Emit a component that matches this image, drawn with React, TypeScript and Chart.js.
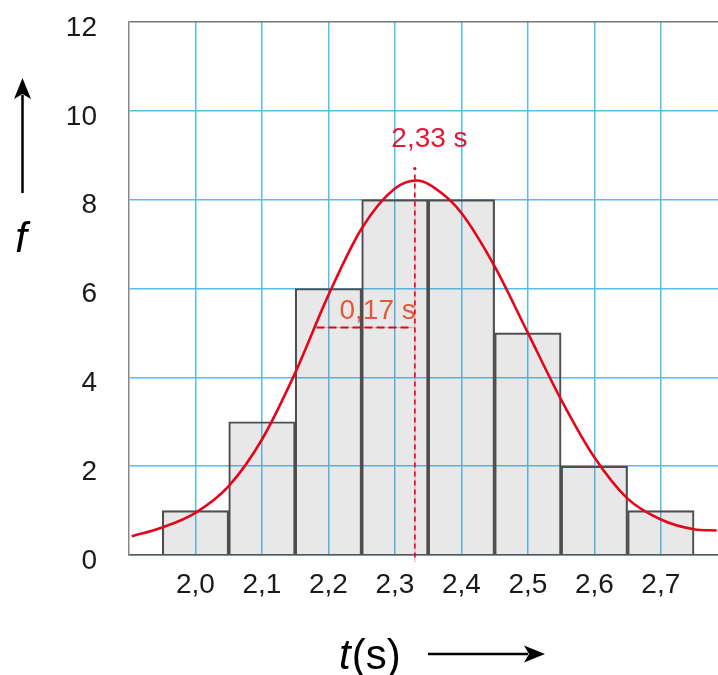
import React, { useEffect, useRef } from 'react';
import { Chart, registerables } from 'chart.js';

Chart.register(...registerables);

const FONT = '"Liberation Sans", Arial, Helvetica, sans-serif';

// Histogram data (bin centres in s, frequency f)
const binCenters = [2.0, 2.1, 2.2, 2.3, 2.4, 2.5, 2.6, 2.7];
const frequencies = [1, 3, 6, 8, 8, 5, 2, 1];

// Fitted normal curve
const curveT = [1.904, 1.95, 2.0, 2.05, 2.1, 2.15, 2.2, 2.25, 2.3, 2.333, 2.37, 2.4, 2.45, 2.5, 2.55, 2.6, 2.65, 2.7, 2.75, 2.784];
const curveF = [0.42, 0.62, 0.95, 1.55, 2.6, 4.1, 5.85, 7.35, 8.25, 8.43, 8.15, 7.7, 6.5, 5.0, 3.5, 2.2, 1.27, 0.8, 0.58, 0.55];

// Tick values
const xTicks = [2.0, 2.1, 2.2, 2.3, 2.4, 2.5, 2.6, 2.7];
const yTicks = [0, 2, 4, 6, 8, 10, 12];

// Annotations
const meanT = 2.33;
const meanLabel = '2,33 s';
const sigmaStartT = 2.182;
const sigmaLevel = 5.12;
const sigmaLabel = '0,17 s';

const RED = '#e3061b';
const GRID = 'rgb(84,190,234)';

function drawArrow(ctx: CanvasRenderingContext2D, x1: number, y1: number, x2: number, y2: number) {
  const ang = Math.atan2(y2 - y1, x2 - x1);
  const headLen = 21;
  const headHalf = 8.5;
  const bx = x2 - headLen * Math.cos(ang);
  const by = y2 - headLen * Math.sin(ang);
  ctx.save();
  ctx.strokeStyle = '#000';
  ctx.fillStyle = '#000';
  ctx.lineWidth = 2.5;
  ctx.beginPath();
  ctx.moveTo(x1, y1);
  ctx.lineTo(bx + 4 * Math.cos(ang), by + 4 * Math.sin(ang));
  ctx.stroke();
  const px = -Math.sin(ang), py = Math.cos(ang);
  ctx.beginPath();
  ctx.moveTo(x2, y2);
  ctx.lineTo(bx + px * headHalf, by + py * headHalf);
  ctx.lineTo(bx + 5 * Math.cos(ang), by + 5 * Math.sin(ang));
  ctx.lineTo(bx - px * headHalf, by - py * headHalf);
  ctx.closePath();
  ctx.fill();
  ctx.restore();
}

const annotPlugin = {
  id: 'annot',
  afterDatasetsDraw(chart: any) {
    const { ctx } = chart;
    const x = chart.scales.x;
    const y = chart.scales.y;
    ctx.save();
    // mean line (dashed vertical)
    const mx = x.getPixelForValue(meanT);
    const top = y.getPixelForValue(8.7);
    const bottom = y.getPixelForValue(-0.15);
    ctx.strokeStyle = 'rgba(227,6,27,0.3)';
    ctx.lineWidth = 1;
    ctx.beginPath();
    ctx.moveTo(mx, top + 6);
    ctx.lineTo(mx, bottom);
    ctx.stroke();
    ctx.strokeStyle = RED;
    ctx.lineWidth = 1.6;
    ctx.setLineDash([5, 4]);
    ctx.beginPath();
    ctx.moveTo(mx, top + 6);
    ctx.lineTo(mx, bottom);
    ctx.stroke();
    ctx.setLineDash([]);
    ctx.fillStyle = RED;
    ctx.beginPath();
    ctx.arc(mx, top, 1.6, 0, Math.PI * 2);
    ctx.fill();
    // sigma line (dashed horizontal)
    const sy = y.getPixelForValue(sigmaLevel);
    const sx1 = x.getPixelForValue(sigmaStartT);
    ctx.strokeStyle = 'rgba(227,6,27,0.3)';
    ctx.lineWidth = 1;
    ctx.beginPath();
    ctx.moveTo(sx1, sy);
    ctx.lineTo(mx, sy);
    ctx.stroke();
    ctx.strokeStyle = RED;
    ctx.lineWidth = 2;
    ctx.setLineDash([8, 4]);
    ctx.beginPath();
    ctx.moveTo(sx1, sy);
    ctx.lineTo(mx - 6, sy);
    ctx.stroke();
    ctx.setLineDash([]);
    // labels
    ctx.textAlign = 'center';
    ctx.textBaseline = 'middle';
    ctx.font = `28px ${FONT}`;
    ctx.fillStyle = '#e3173a';
    ctx.fillText(meanLabel, x.getPixelForValue(2.352), y.getPixelForValue(9.37));
    ctx.fillStyle = '#df5a3c';
    ctx.fillText(sigmaLabel, x.getPixelForValue(2.274), y.getPixelForValue(5.48));
    ctx.restore();
  },
  afterDraw(chart: any) {
    const { ctx } = chart;
    ctx.save();
    ctx.fillStyle = '#000';
    ctx.textBaseline = 'alphabetic';
    ctx.textAlign = 'left';
    // x title: t(s)
    ctx.font = `italic 42px ${FONT}`;
    ctx.fillText('t', 339, 669);
    const tw = ctx.measureText('t').width;
    ctx.font = `42px ${FONT}`;
    ctx.fillText('(s)', 339 + tw + 1, 669);
    // y title: f
    ctx.font = `italic 42px ${FONT}`;
    ctx.textAlign = 'center';
    ctx.fillText('f', 21, 252);
    ctx.restore();
    drawArrow(ctx, 22.5, 193, 22.5, 78);
    drawArrow(ctx, 428, 654, 545, 654);
  },
};

export default function App() {
  const ref = useRef<HTMLCanvasElement>(null);
  useEffect(() => {
    document.body.style.margin = '0';
    const chart = new Chart(ref.current as HTMLCanvasElement, {
      type: 'bar',
      data: {
        datasets: [
          {
            type: 'line',
            data: curveT.map((t, i) => ({ x: t, y: curveF[i] })),
            borderColor: RED,
            borderWidth: 2.6,
            pointRadius: 0,
            fill: false,
            cubicInterpolationMode: 'monotone',
            order: 0,
          } as any,
          {
            type: 'bar',
            data: binCenters.map((t, i) => ({ x: t, y: frequencies[i] })),
            backgroundColor: 'rgba(120,120,120,0.17)',
            borderColor: '#4d4d4d',
            borderWidth: 1.5,
            barPercentage: 1,
            categoryPercentage: 1,
            order: 1,
          } as any,
        ],
      },
      options: {
        animation: false,
        responsive: false,
        devicePixelRatio: 1,
        layout: { padding: { top: 22, left: 0, right: 0, bottom: 0 } },
        plugins: { legend: { display: false }, tooltip: { enabled: false } },
        scales: {
          x: {
            type: 'linear',
            min: 1.9,
            max: 2.786,
            offset: false,
            afterBuildTicks: (s: any) => { s.ticks = xTicks.map((v) => ({ value: v })); },
            afterFit: (s: any) => { s.height = 120; s.paddingLeft = 0; s.paddingRight = 0; },
            grid: { color: GRID, lineWidth: 1.5, drawTicks: false, offset: false },
            border: { color: '#555', width: 1.5 },
            ticks: {
              padding: 13,
              color: '#1a1a1a',
              maxRotation: 0,
              autoSkip: false,
              font: { family: FONT, size: 28 },
              callback: (v: any) => Number(v).toFixed(1).replace('.', ','),
            },
          },
          y: {
            type: 'linear',
            min: 0,
            max: 12,
            afterBuildTicks: (s: any) => { s.ticks = yTicks.map((v) => ({ value: v })); },
            afterFit: (s: any) => { s.width = 129; s.paddingTop = 0; s.paddingBottom = 0; },
            grid: {
              color: (c: any) => (c.tick && c.tick.value === 12 ? '#777' : GRID),
              lineWidth: 1.5,
              drawTicks: false,
            },
            border: { color: '#888', width: 1.5 },
            ticks: {
              padding: 32,
              labelOffset: 6,
              color: '#1a1a1a',
              font: { family: FONT, size: 28 },
              callback: (v: any) => String(v),
            },
          },
        },
      } as any,
      plugins: [annotPlugin],
    });
    return () => chart.destroy();
  }, []);
  return (
    <canvas
      ref={ref}
      width={718}
      height={675}
      style={{ display: 'block', width: 718, height: 675 }}
    />
  );
}
